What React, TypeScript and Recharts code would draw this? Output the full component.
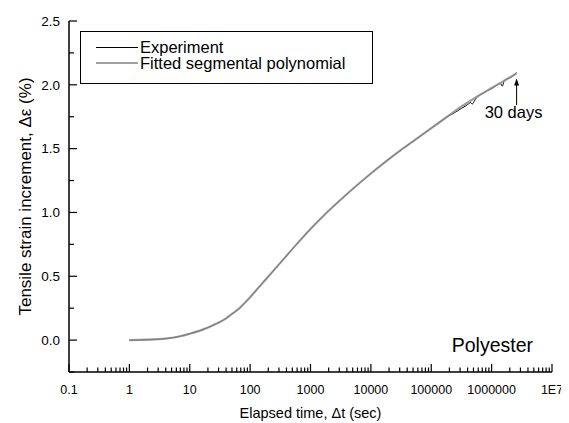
import React from "react";
import {
  LineChart,
  Line,
  XAxis,
  YAxis,
  Legend,
  ReferenceDot,
  ReferenceLine,
} from "recharts";

const FONT = '"Liberation Sans", Arial, sans-serif';

// fitted segmental polynomial
const FIT_T = [1, 2, 4, 7, 10, 16, 28, 40, 50, 63, 79, 100, 126, 178, 316, 562, 1000, 1778, 3162, 5623, 10000, 17783, 31623, 56234, 100000, 177828, 316228, 562341, 1000000, 1584893, 2592000];
const FIT_Y = [0, 0.003, 0.012, 0.03, 0.05, 0.08, 0.13, 0.17, 0.205, 0.24, 0.285, 0.335, 0.39, 0.47, 0.605, 0.74, 0.87, 0.99, 1.1, 1.205, 1.305, 1.4, 1.49, 1.575, 1.66, 1.745, 1.83, 1.905, 1.975, 2.03, 2.09];

// experiment: same as the fit early on, slightly noisy toward 30 days
const EXP_T = [1, 2, 4, 7, 10, 16, 28, 40, 50, 63, 79, 100, 126, 178, 316, 562, 1000, 1778, 3162, 5623, 10000, 17783, 31623, 56234, 100000, 177828, 250000, 316228, 400000, 450000, 480000, 520000, 562341, 700000, 850000, 1000000, 1200000, 1400000, 1500000, 1600000, 1800000, 2100000, 2400000, 2592000];
const EXP_Y = [0, 0.003, 0.012, 0.03, 0.05, 0.08, 0.13, 0.17, 0.205, 0.24, 0.285, 0.335, 0.39, 0.47, 0.605, 0.74, 0.87, 0.99, 1.1, 1.205, 1.305, 1.4, 1.49, 1.575, 1.66, 1.745, 1.785, 1.815, 1.845, 1.86, 1.85, 1.875, 1.9, 1.93, 1.955, 1.97, 1.995, 2.01, 1.99, 2.025, 2.045, 2.06, 2.08, 2.095];

const X_MAJOR = [0.1, 1, 10, 100, 1000, 10000, 100000, 1000000, 10000000];
const X_LABELS = ["0.1", "1", "10", "100", "1000", "10000", "100000", "1000000", "1E7"];
const Y_MAJOR = [0, 0.5, 1, 1.5, 2, 2.5];
const Y_MINOR = [-0.25, 0.25, 0.75, 1.25, 1.75, 2.25];

const fitData = FIT_T.map((t, i) => ({ t, y: FIT_Y[i] }));
const expData = EXP_T.map((t, i) => ({ t, y: EXP_Y[i] }));

// log minor ticks 2..9 within each decade
const xMinor: number[] = [];
X_MAJOR.slice(0, -1).forEach((d) => {
  for (let k = 2; k <= 9; k++) xMinor.push(+(d * k).toPrecision(3));
});
const xTicks = [...X_MAJOR, ...xMinor].sort((a, b) => a - b);
const yTicks = [...Y_MAJOR, ...Y_MINOR].sort((a, b) => a - b);

const BottomTick = (props: any) => {
  const { x, y, payload } = props;
  const idx = X_MAJOR.indexOf(payload.value);
  const len = idx >= 0 ? 8 : 4.5;
  return (
    <g>
      <line x1={x} x2={x} y1={y} y2={y - len} stroke="#000" strokeWidth={1.2} />
      {idx >= 0 && (
        <text x={x} y={y + 22} textAnchor="middle" fontSize={12.5} fontFamily={FONT} fill="#000">
          {X_LABELS[idx]}
        </text>
      )}
    </g>
  );
};

const TopTick = (props: any) => {
  const { x, y, payload } = props;
  const len = X_MAJOR.includes(payload.value) ? 8 : 4.5;
  return <line x1={x} x2={x} y1={y} y2={y + len} stroke="#000" strokeWidth={1.2} />;
};

const LeftTick = (props: any) => {
  const { x, y, payload } = props;
  const major = Y_MAJOR.includes(payload.value);
  return (
    <g>
      <line x1={x} x2={x + (major ? 8 : 5)} y1={y} y2={y} stroke="#000" strokeWidth={1.2} />
      {major && (
        <text x={x - 9} y={y} dy="0.36em" textAnchor="end" fontSize={13.5} fontFamily={FONT} fill="#000">
          {payload.value.toFixed(1)}
        </text>
      )}
    </g>
  );
};

const RightTick = (props: any) => {
  const { x, y, payload } = props;
  const len = Y_MAJOR.includes(payload.value) ? 8 : 6;
  return <line x1={x} x2={x - len} y1={y} y2={y} stroke="#000" strokeWidth={1.2} />;
};

const LegendBox = () => (
  <div
    style={{
      position: "relative",
      width: 293,
      height: 53,
      boxSizing: "border-box",
      border: "1.3px solid #000",
      background: "#fff",
      fontFamily: FONT,
      fontSize: 16.5,
      color: "#000",
    }}
  >
    <div style={{ position: "absolute", left: 15, top: 15, width: 42, borderTop: "1px solid #000" }} />
    <div style={{ position: "absolute", left: 59, top: 8, lineHeight: "15px" }}>Experiment</div>
    <div style={{ position: "absolute", left: 15, top: 30, width: 42, borderTop: "2px solid #a0a0a0" }} />
    <div style={{ position: "absolute", left: 59, top: 24, lineHeight: "15px" }}>Fitted segmental polynomial</div>
  </div>
);

const axisLine = { stroke: "#000", strokeWidth: 1.5 };

export default function App() {
  return (
    <LineChart width={561} height={415} margin={{ top: 13, right: 17, bottom: 0, left: 0 }}>
      <XAxis
        dataKey="t"
        type="number"
        scale="log"
        domain={[0.1, 10000000]}
        allowDataOverflow
        ticks={xTicks}
        interval={0}
        tickSize={0}
        tickMargin={0}
        tickLine={false}
        axisLine={axisLine}
        tick={<BottomTick />}
        height={51}
        label={{
          value: "Elapsed time, \u0394t (sec)",
          position: "insideBottom",
          offset: 5,
          style: { fontSize: 14.5, fontFamily: FONT, fill: "#000" },
        }}
      />
      <XAxis
        xAxisId="top"
        orientation="top"
        type="number"
        scale="log"
        domain={[0.1, 10000000]}
        allowDataOverflow
        ticks={xTicks}
        interval={0}
        tickSize={0}
        tickMargin={0}
        tickLine={false}
        axisLine={axisLine}
        tick={<TopTick />}
        height={0}
      />
      <YAxis
        type="number"
        domain={[-0.25, 2.5]}
        ticks={yTicks}
        interval={0}
        tickSize={0}
        tickMargin={0}
        tickLine={false}
        axisLine={axisLine}
        tick={<LeftTick />}
        width={61}
        label={{
          value: "Tensile strain increment, \u0394\u03b5 (%)",
          angle: -90,
          position: "insideLeft",
          offset: 17,
          style: { fontSize: 17, fontFamily: FONT, fill: "#000", textAnchor: "middle" },
        }}
      />
      <YAxis
        yAxisId="r"
        orientation="right"
        type="number"
        domain={[-0.25, 2.5]}
        ticks={yTicks}
        interval={0}
        tickSize={0}
        tickMargin={0}
        tickLine={false}
        axisLine={axisLine}
        tick={<RightTick />}
        width={0}
      />
      <Legend
        layout="vertical"
        align="center"
        verticalAlign="middle"
        content={<LegendBox />}
        wrapperStyle={{ left: 72, top: 23, width: 293, height: 53 }}
      />
      <Line
        data={expData}
        dataKey="y"
        type="monotone"
        stroke="#000"
        strokeWidth={1}
        dot={false}
        isAnimationActive={false}
      />
      <Line
        data={fitData}
        dataKey="y"
        type="monotone"
        stroke="#8f8f8f"
        strokeWidth={2.2}
        strokeOpacity={0.85}
        dot={false}
        isAnimationActive={false}
      />
      <ReferenceLine
        segment={[
          { x: 2592000, y: 1.84 },
          { x: 2592000, y: 2.03 },
        ]}
        stroke="#000"
        strokeWidth={1}
      />
      <ReferenceDot
        x={2592000}
        y={2.05}
        r={0}
        shape={(p: any) => (
          <polygon
            points={`${p.cx},${p.cy} ${p.cx - 2.5},${p.cy + 7} ${p.cx + 2.5},${p.cy + 7}`}
            fill="#000"
          />
        )}
      />
      <ReferenceDot
        x={2592000}
        y={1.79}
        r={0}
        shape={(p: any) => (
          <text x={p.cx - 3} y={p.cy} dy="0.36em" textAnchor="middle" fontSize={16.5} fontFamily={FONT} fill="#000">
            30 days
          </text>
        )}
      />
      <ReferenceDot
        x={10000000}
        y={-0.04}
        r={0}
        shape={(p: any) => (
          <text x={p.cx - 19} y={p.cy} dy="0.36em" textAnchor="end" fontSize={19.5} fontFamily={FONT} fill="#000">
            Polyester
          </text>
        )}
      />
    </LineChart>
  );
}
